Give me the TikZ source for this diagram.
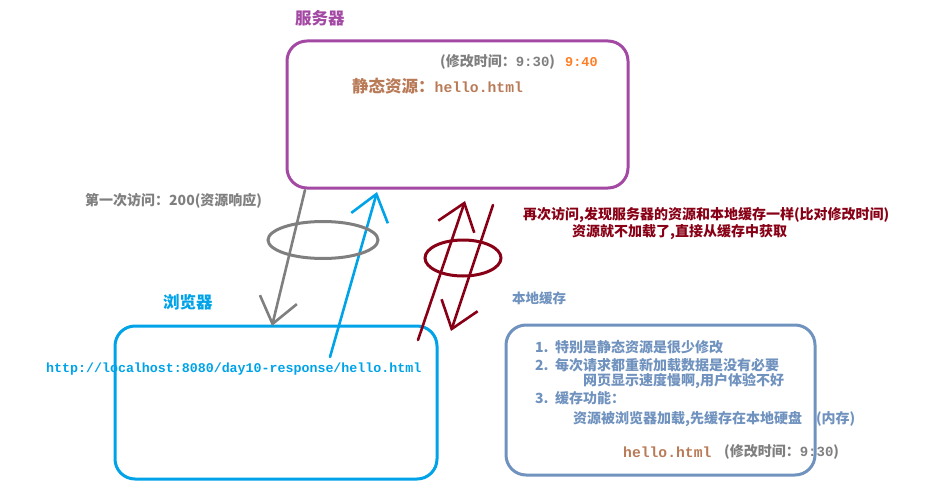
\documentclass[tikz,border=0pt]{standalone}
\usepackage{fontspec}
\setmainfont{Noto Sans CJK SC}
\setmonofont{Liberation Mono}
\usetikzlibrary{arrows.meta}
\definecolor{srvpurple}{HTML}{A349A4}
\definecolor{txtgray}{HTML}{7F7F7F}
\definecolor{newtime}{HTML}{FF7F27}
\definecolor{filebrown}{HTML}{B97A57}
\definecolor{brwblue}{HTML}{00A2E8}
\definecolor{againred}{HTML}{880015}
\definecolor{cacheblue}{HTML}{7092BE}
\tikzset{
  box/.style = {draw, line width=3pt, rounded corners=20pt, inner sep=0pt},
  lbl/.style = {anchor=west, inner sep=0pt, font=\bfseries\fontsize{14}{17}\selectfont},
  title/.style = {anchor=west, inner sep=0pt, font=\bfseries\fontsize{16.5}{19}\selectfont},
  hand/.style = {line width=2.6pt, line cap=round, -{Straight Barb[length=25pt,width=38pt]}}
}
\begin{document}
\begin{tikzpicture}[x=1pt, y=-1pt]
    \useasboundingbox (0,0) rectangle (947,503);
    % boxes
    \node[box, srvpurple, minimum width=341pt, minimum height=147pt] (server) at (457.5,114.5) {};
    \node[box, brwblue, minimum width=322pt, minimum height=153pt] (browser) at (276,402.5) {};
    \node[box, cacheblue, minimum width=309pt, minimum height=150pt] (cache) at (660.5,400) {};
    % titles
    \node[title, srvpurple] (servertitle) at (295,18) {服务器};
    \node[title, brwblue] (browsertitle) at (163,302) {浏览器};
    \node[lbl, cacheblue, font=\bfseries\fontsize{13.5}{16}\selectfont] (cachetitle) at (512,298) {本地缓存};
    % server contents
    \node[lbl, txtgray] (oldtime) at (440,62) {(修改时间：\texttt{9:30})};
    \node[lbl, newtime, font=\bfseries\ttfamily\fontsize{13.5}{16}\selectfont] (newtime) at (565,62) {9:40};
    \node[title, filebrown] (static) at (352,86) {静态资源：\texttt{\fontsize{14.7}{17}\selectfont hello.html}};
    % browser contents
    \node[lbl, brwblue, font=\bfseries\ttfamily\fontsize{13.3}{16}\selectfont] (url) at (46,369) {http://localhost:8080/day10-response/hello.html};
    % notes
    \node[lbl, txtgray] (first) at (85,201) {第一次访问：200(资源响应)};
    \node[lbl, againred] (again1) at (523,215) {再次访问,发现服务器的资源和本地缓存一样(比对修改时间)};
    \node[lbl, againred] (again2) at (572,232) {资源就不加载了,直接从缓存中获取};
    % cache contents
    \node[lbl, cacheblue] (item1) at (535,347) {1.\ \ 特别是静态资源是很少修改};
    \node[lbl, cacheblue] (item2) at (535,365) {2.\ \ 每次请求都重新加载数据是没有必要};
    \node[lbl, cacheblue] (item2b) at (583,381) {网页显示速度慢啊,用户体验不好};
    \node[lbl, cacheblue] (item3) at (535,398) {3.\ \ 缓存功能：};
    \node[lbl, cacheblue] (item3b) at (573,419) {资源被浏览器加载,先缓存在本地硬盘\hspace{14pt}(内存)};
    \node[lbl, filebrown, font=\bfseries\ttfamily\fontsize{14.7}{17}\selectfont] (cachefile) at (623,452) {hello.html};
    \node[lbl, txtgray] (cachetime) at (724,452) {(修改时间：\texttt{9:30})};
    % arrow ends
    \coordinate (reqtop) at (305,190);
    \coordinate (reqtip) at (272,326);
    \coordinate (resbot) at (330,357);
    \coordinate (restip) at (377,192);
    \coordinate (upbot) at (418,340);
    \coordinate (uptip) at (465,201);
    \coordinate (downtop) at (493,205);
    \coordinate (downtip) at (451,331);
    % first visit
    \draw[hand, txtgray] (reqtop) -- (reqtip);
    \draw[hand, brwblue] (resbot) -- (restip);
    \draw[txtgray, line width=3pt] (323,240) ellipse (55pt and 18.5pt);
    % second visit
    \draw[hand, againred] (upbot) -- (uptip);
    \draw[hand, againred] (downtop) -- (downtip);
    \draw[againred, line width=3pt] (463,258) ellipse (38pt and 18pt);
\end{tikzpicture}
\end{document}
